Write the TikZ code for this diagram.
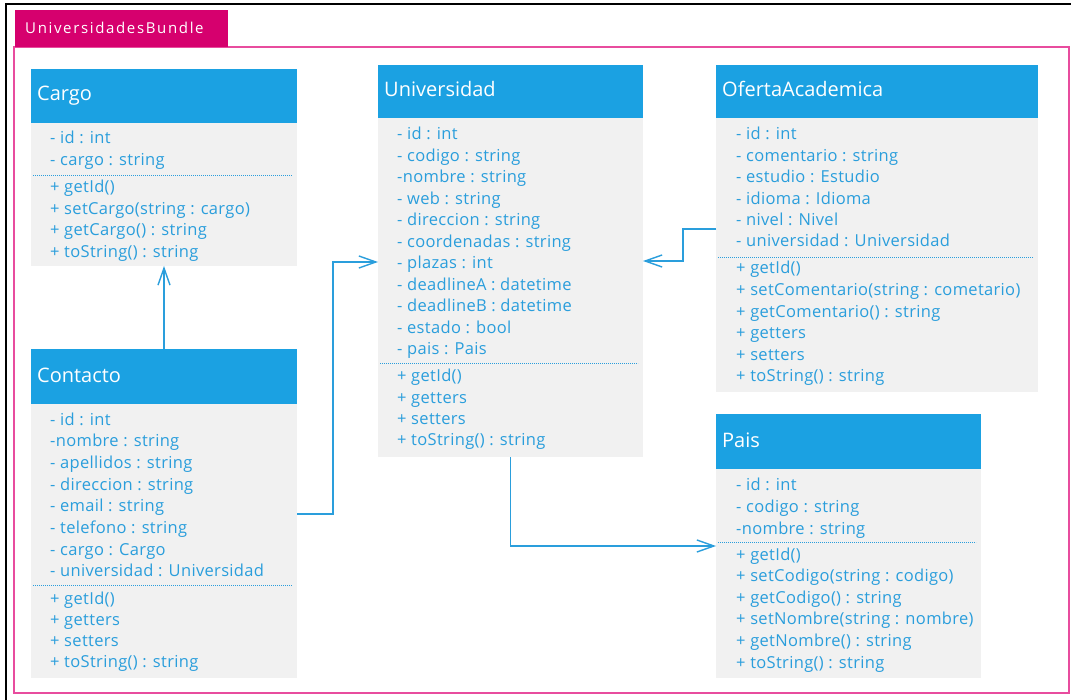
\documentclass[tikz,border=0pt]{standalone}
\usepackage{fontspec}
\setmainfont{Open Sans}
\usetikzlibrary{arrows.meta}
\definecolor{hdrblue}{HTML}{1BA1E2}
\definecolor{txtblue}{HTML}{2A9EDC}
\definecolor{bodygray}{HTML}{F1F1F1}
\definecolor{tabpink}{HTML}{D6006E}
\definecolor{linepink}{HTML}{E84C9E}
\tikzset{
  hdr/.style={draw=none, fill=hdrblue, anchor=north west, inner sep=0, outer sep=0},
  bodybox/.style={draw=none, fill=bodygray, anchor=north west, inner sep=0, outer sep=0},
  title/.style={anchor=base west, inner sep=0, text=white, font=\fontsize{20}{24}\selectfont},
  txt/.style={anchor=base west, inner sep=0, text=txtblue, font=\fontsize{16.5}{19}\selectfont\addfontfeatures{LetterSpace=2}},
  sep/.style={draw=txtblue, line width=0.8pt, dash pattern=on 1.2pt off 0.8pt},
  conn/.style={draw=txtblue, line width=1.4pt, -{Straight Barb[length=17pt,width=12pt,line width=1.4pt]}},
}
\begin{document}
\begin{tikzpicture}[x=1pt,y=-1pt]
\useasboundingbox (0,0) rectangle (1071,700);
\fill[white] (0,0) rectangle (1071,700);
% outer frame
\draw[black, line width=2.2pt] (6,700) -- (6,4) -- (1071,4);
% package
\draw[linepink, line width=1.6pt] (14,47) rectangle (1069,693);
\node[fill=tabpink, anchor=north west, minimum width=213pt, minimum height=37pt, inner sep=0] (tab) at (15,10) {};
\node[anchor=base west, inner sep=0, text=white, font=\fontsize{15}{18}\selectfont\addfontfeatures{LetterSpace=11}] (tabT) at (25,34) {UniversidadesBundle};

% ---------- Cargo ----------
\node[hdr, minimum width=266pt, minimum height=54pt] (cargo) at (31,69) {};
\node[bodybox, minimum width=266pt, minimum height=143pt] (cargoB) at (31,123) {};
\node[title] (cargoT) at (37,101) {Cargo};
\foreach \t [count=\i] in {{- id : int},{- cargo : string}}
  \node[txt] (cargoA\i) at (50,144+21.5*\i-21.5) {\t};
\draw[sep] (33,175) -- (292,175);
\foreach \t [count=\i] in {{+ getId()},{+ setCargo(string : cargo)},{+ getCargo() : string},{+ toString() : string}}
  \node[txt] (cargoM\i) at (50,193+21.5*\i-21.5) {\t};

% ---------- Universidad ----------
\node[hdr, minimum width=265pt, minimum height=53pt] (univ) at (378,65) {};
\node[bodybox, minimum width=265pt, minimum height=339pt] (univB) at (378,118) {};
\node[title] (univT) at (384,97) {Universidad};
\foreach \t [count=\i] in {{- id : int},{- codigo : string},{-nombre : string},{- web : string},{- direccion : string},{- coordenadas : string},{- plazas : int},{- deadlineA : datetime},{- deadlineB : datetime},{- estado : bool},{- pais : Pais}}
  \node[txt] (univA\i) at (397,140+21.5*\i-21.5) {\t};
\draw[sep] (380,363) -- (638,363);
\foreach \t [count=\i] in {{+ getId()},{+ getters},{+ setters},{+ toString() : string}}
  \node[txt] (univM\i) at (397,382+21.3*\i-21.3) {\t};

% ---------- OfertaAcademica ----------
\node[hdr, minimum width=322pt, minimum height=53pt] (oferta) at (716,65) {};
\node[bodybox, minimum width=322pt, minimum height=274pt] (ofertaB) at (716,118) {};
\node[title] (ofertaT) at (722,97) {OfertaAcademica};
\foreach \t [count=\i] in {{- id : int},{- comentario : string},{- estudio : Estudio},{- idioma : Idioma},{- nivel : Nivel},{- universidad : Universidad}}
  \node[txt] (ofertaA\i) at (736,140+21.4*\i-21.4) {\t};
\draw[sep] (718,257) -- (1033,257);
\foreach \t [count=\i] in {{+ getId()},{+ setComentario(string : cometario)},{+ getComentario() : string},{+ getters},{+ setters},{+ toString() : string}}
  \node[txt] (ofertaM\i) at (736,274+21.6*\i-21.6) {\t};

% ---------- Contacto ----------
\node[hdr, minimum width=266pt, minimum height=55pt] (contacto) at (31,349) {};
\node[bodybox, minimum width=266pt, minimum height=274pt] (contactoB) at (31,404) {};
\node[title] (contactoT) at (37,383) {Contacto};
\foreach \t [count=\i] in {{- id : int},{-nombre : string},{- apellidos : string},{- direccion : string},{- email : string},{- telefono : string},{- cargo : Cargo},{- universidad : Universidad}}
  \node[txt] (contactoA\i) at (50,425+21.7*\i-21.7) {\t};
\draw[sep] (33,585) -- (292,585);
\foreach \t [count=\i] in {{+ getId()},{+ getters},{+ setters},{+ toString() : string}}
  \node[txt] (contactoM\i) at (50,604+21.3*\i-21.3) {\t};

% ---------- Pais ----------
\node[hdr, minimum width=265pt, minimum height=55pt] (pais) at (716,414) {};
\node[bodybox, minimum width=265pt, minimum height=209pt] (paisB) at (716,469) {};
\node[title] (paisT) at (722,447) {Pais};
\foreach \t [count=\i] in {{- id : int},{- codigo : string},{-nombre : string}}
  \node[txt] (paisA\i) at (736,490+22*\i-22) {\t};
\draw[sep] (718,542) -- (976,542);
\foreach \t [count=\i] in {{+ getId()},{+ setCodigo(string : codigo)},{+ getCodigo() : string},{+ setNombre(string : nombre)},{+ getNombre() : string},{+ toString() : string}}
  \node[txt] (paisM\i) at (736,560+21.6*\i-21.6) {\t};

% ---------- connectors ----------
\draw[conn] (contacto.north) -- (cargoB.south);
\draw[conn] ([yshift=-110pt]contactoB.north east) -| (333,262) -- (univB.west |- 0,262);
\draw[conn] (ofertaB.west |- 0,229) -| (683,261) -- (univB.east |- 0,261);
\draw[conn] (univB.south) |- (paisB.west |- 0,546);
\end{tikzpicture}
\end{document}
